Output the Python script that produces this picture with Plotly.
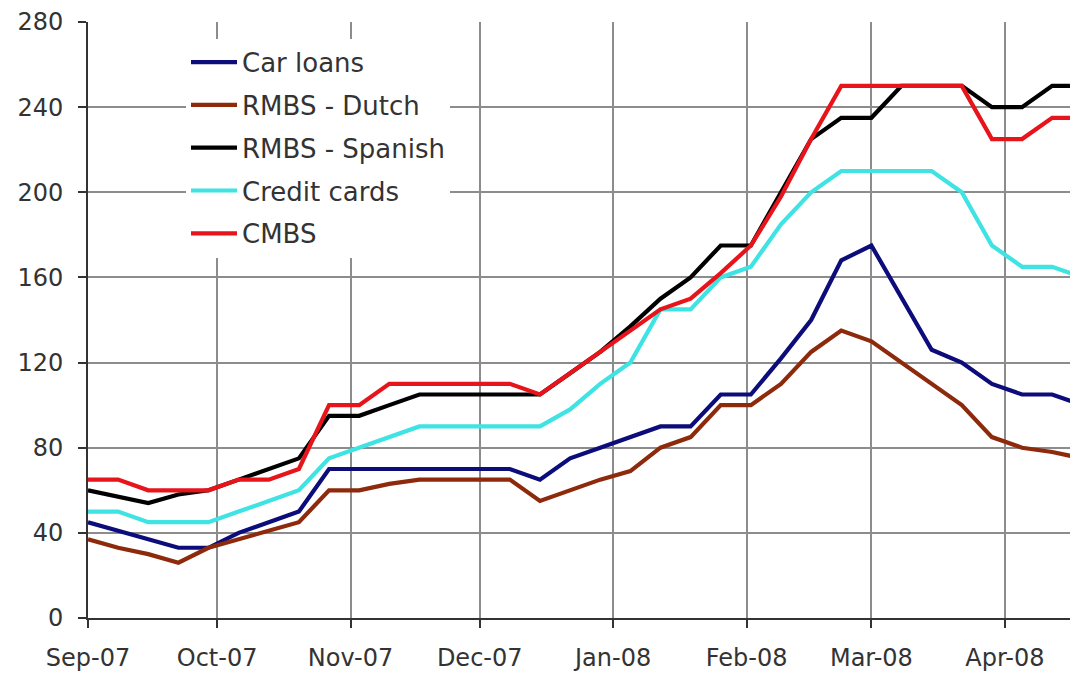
import plotly.graph_objects as go

dates = [
    "2007-09-01", "2007-09-08", "2007-09-15", "2007-09-22", "2007-09-29",
    "2007-10-06", "2007-10-13", "2007-10-20", "2007-10-27",
    "2007-11-03", "2007-11-10", "2007-11-17", "2007-11-24",
    "2007-12-01", "2007-12-08", "2007-12-15", "2007-12-22", "2007-12-29",
    "2008-01-05", "2008-01-12", "2008-01-19", "2008-01-26",
    "2008-02-02", "2008-02-09", "2008-02-16", "2008-02-23",
    "2008-03-01", "2008-03-08", "2008-03-15", "2008-03-22", "2008-03-29",
    "2008-04-05", "2008-04-12", "2008-04-19",
]

car_loans = [45, 41, 37, 33, 33, 40, 45, 50, 70, 70, 70, 70, 70, 70, 70, 65, 75,
             80, 85, 90, 90, 105, 105, 122, 140, 168, 175, 150, 126, 120, 110, 105, 105, 100]
rmbs_dutch = [37, 33, 30, 26, 33, 37, 41, 45, 60, 60, 63, 65, 65, 65, 65, 55, 60,
              65, 69, 80, 85, 100, 100, 110, 125, 135, 130, 120, 110, 100, 85, 80, 78, 75]
rmbs_spanish = [60, 57, 54, 58, 60, 65, 70, 75, 95, 95, 100, 105, 105, 105, 105, 105, 115,
                125, 137, 150, 160, 175, 175, 200, 225, 235, 235, 250, 250, 250, 240, 240, 250, 250]
credit_cards = [50, 50, 45, 45, 45, 50, 55, 60, 75, 80, 85, 90, 90, 90, 90, 90, 98,
                110, 120, 145, 145, 160, 165, 185, 200, 210, 210, 210, 210, 200, 175, 165, 165, 160]
cmbs = [65, 65, 60, 60, 60, 65, 65, 70, 100, 100, 110, 110, 110, 110, 110, 105, 115,
        125, 135, 145, 150, 162, 175, 198, 225, 250, 250, 250, 250, 250, 225, 225, 235, 235]

series_names = ["Car loans", "RMBS - Dutch", "RMBS - Spanish", "Credit cards", "CMBS"]
series_values = [car_loans, rmbs_dutch, rmbs_spanish, credit_cards, cmbs]
series_colors = ["#0c0c7a", "#8e2a0c", "#000000", "#3fe3e3", "#e8141b"]

y_ticks = [0, 40, 80, 120, 160, 200, 240, 280]

fig = go.Figure()
for name, vals, col in zip(series_names, series_values, series_colors):
    fig.add_trace(go.Scatter(
        x=dates, y=vals, name=name, mode="lines", legendgroup=name,
        line=dict(color=col, width=4.2),
    ))

font_col = "#333333"
# The page body adds an 8px offset, so the figure is sized 8px smaller on each axis.
fig.update_layout(
    width=1070, height=666,
    margin=dict(l=80, r=0, t=14, b=56, autoexpand=False),
    paper_bgcolor="white", plot_bgcolor="white",
    font=dict(family="DejaVu Sans", size=24, color=font_col),
    showlegend=True,
    legend=dict(
        x=0.099, y=0.972, xanchor="left", yanchor="top",
        bgcolor="white", borderwidth=0,
        font=dict(family="DejaVu Sans", size=26, color=font_col),
        tracegroupgap=6, itemwidth=46,
    ),
    xaxis=dict(
        type="date", automargin=False,
        range=["2007-09-01", "2008-04-18"],
        dtick="M1", tick0="2007-09-01", tickformat="%b-%y",
        ticks="outside", ticklen=8, tickwidth=2, tickcolor="#333333",
        showgrid=True, gridcolor="#8c8c8c", gridwidth=1.6,
        showline=True, linecolor="#333333", linewidth=2,
        zeroline=False, ticklabelstandoff=9, ticklabeloverflow="allow",
        tickfont=dict(size=24, color=font_col),
    ),
    yaxis=dict(
        range=[0, 280], tickvals=y_ticks, automargin=False,
        ticks="outside", ticklen=8, tickwidth=2, tickcolor="#333333",
        showgrid=True, gridcolor="#8c8c8c", gridwidth=1.6,
        showline=True, linecolor="#333333", linewidth=2,
        zeroline=False, ticklabelstandoff=10, ticklabeloverflow="allow",
        tickfont=dict(size=24, color=font_col),
    ),
)

fig.write_html("out.html")
